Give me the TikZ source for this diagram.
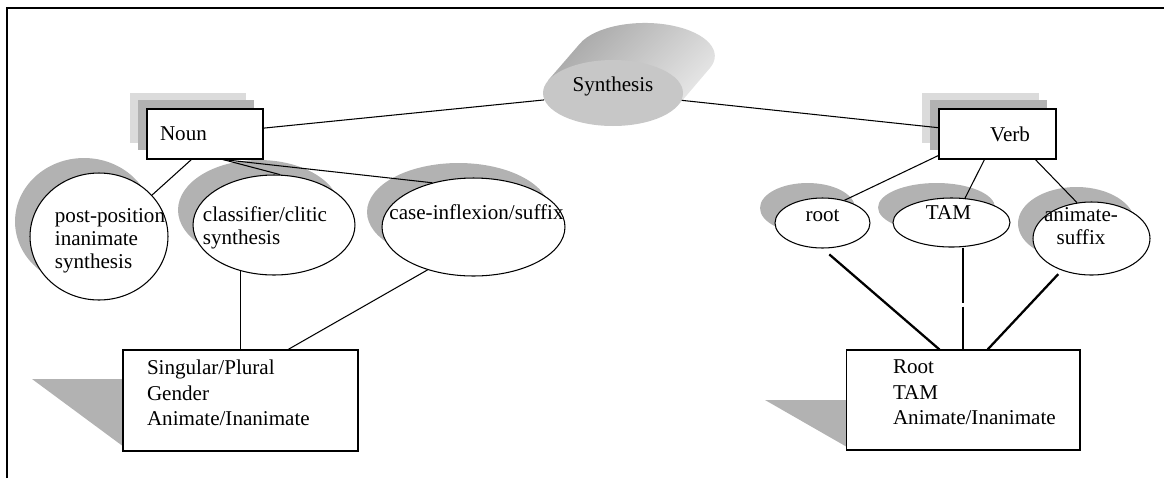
\documentclass[tikz,border=0pt]{standalone}
\usepackage{fontspec}
\setmainfont{Liberation Serif}
\usepackage{xcolor}
\usepackage{tikz}
\usetikzlibrary{shapes.geometric,shadows}

% text laid into an ellipse without widening it: shift x, shift y, column, lines
\newcommand{\inell}[4]{\raisebox{#2}[0pt][0pt]{\makebox[0pt]{\hspace*{#1}\begin{tabular}{@{}#3@{}}#4\end{tabular}\hspace*{-#1}}}}
% lines hung from the top of a feature box: height, width, lines
\newcommand{\featlines}[3]{\parbox[c][#1][t]{#2}{#3}}

\begin{document}
\begin{tikzpicture}[x=0.02cm, y=-0.02cm,
    every node/.style={font=\fontsize{12}{13}\selectfont},
    link/.style={line width=0.6pt},
    heavylink/.style={line width=1.3pt},
    halftone/.style={fill=gray!60},
    oval/.style={ellipse, draw, line width=0.6pt, fill=white, inner sep=0pt,
        general shadow={fill=gray!60, shadow xshift=-0.3cm, shadow yshift=0.3cm}},
    headbox/.style={rectangle, draw, line width=0.6pt, fill=white, minimum width=2.32cm, minimum height=1cm,
        general shadow={fill=gray!28, shadow xshift=-0.34cm, shadow yshift=0.32cm},
        general shadow={fill=gray!60, shadow xshift=-0.18cm, shadow yshift=0.18cm}},
    featbox/.style={rectangle, draw, line width=0.6pt, fill=white, inner xsep=0.2cm, inner ysep=0.2cm,
        font=\fontsize{12}{14.5}\selectfont}]

        % 0. PAGE FRAME
        \useasboundingbox (0,0) rectangle (1164,478);
        \draw[line width=1.4pt] (7,478) -- (7,8) -- (1164,8);

        % 1. SYNTHESIS (raised disc at the top)
        \shade[top color=gray!70, bottom color=gray!18, shading angle=45] (548,80.5) -- (580,43.5)
            arc[start angle=202.2, end angle=382.2, x radius=70, y radius=33] -- (678,105.5) -- cycle;
        \node[ellipse, fill=gray!44, inner sep=0pt, minimum width=2.8cm, minimum height=1.32cm] (synth) at (613,93) {\inell{0cm}{0.02cm}{c}{Synthesis}};

        % 2. NOUN AND VERB HEADS
        \node[headbox, inner xsep=0.26cm, text width=1.8cm, align=left] (noun) at (205,134) {Noun};
        \node[headbox, inner xsep=0.52cm, text width=1.3cm, align=right] (verb) at (997.5,134) {Verb};

        % 3. NOUN BRANCHES
        \node[oval, minimum width=2.76cm, minimum height=2.54cm] (pp) at (99,236.5) {\inell{0.22cm}{-0.19cm}{l}{post-position\\inanimate\\synthesis}};
        \node[oval, minimum width=3.24cm, minimum height=2cm] (cls) at (274,225) {\inell{-0.18cm}{-0.18cm}{l}{classifier/clitic\\synthesis}};
        \node[oval, minimum width=3.66cm, minimum height=1.96cm] (cas) at (473.5,227) {\inell{0.06cm}{0.14cm}{c}{case-inflexion/suffix}};

        % 4. VERB BRANCHES
        \node[oval, minimum width=1.9cm, minimum height=1cm] (root) at (822.5,223) {\inell{0cm}{0.02cm}{c}{root}};
        \node[oval, minimum width=2.34cm, minimum height=0.98cm] (tam) at (951.5,222.5) {\inell{-0.06cm}{0.04cm}{c}{TAM}};
        \node[oval, minimum width=2.34cm, minimum height=1.46cm] (anim) at (1091.5,238.5) {\inell{-0.21cm}{0.1cm}{c}{animate-\\suffix}};

        % 5. FEATURE BOXES (with slanted shadow)
        \fill[halftone] (32,379) -- (124,379) -- (124,447) -- cycle;
        \node[featbox] (nounfeat) at (240.5,400.5) {\featlines{1.62cm}{4.3cm}{\leftskip=0.28cm Singular/Plural\\Gender\\Animate/Inanimate}};
        \fill[halftone] (765,400) -- (847,400) -- (847,447) -- cycle;
        \node[featbox] (verbfeat) at (963,400) {\featlines{1.6cm}{4.28cm}{\leftskip=0.74cm Root\\TAM\\Animate/Inanimate}};

        % 6. CONNECTORS
        \draw[link] (synth) -- (noun);
        \draw[link] (synth) -- (verb);
        \draw[link] (noun.242) -- (pp.38);
        \draw[link] (noun.305) -- (cls.83);
        \draw[link] (noun.305) -- (cas.133);
        \draw[link] (cls.234) -- (cls.234 |- nounfeat.north);
        \draw[link] (cas.223) -- (nounfeat.47);
        \draw[link] (verb.200) -- (root.46);
        \draw[link] (verb.243) -- (tam.61);
        \draw[link] (verb.326) -- (anim.112);

        % thick links down to the verb features
        \draw[heavylink, shorten <=0.18cm] (root.south) -- (verbfeat.115);
        \draw[heavylink, dash pattern=on 1.1cm off 0.08cm] (verbfeat.north |- tam.south) -- (verbfeat.north);
        \draw[heavylink, shorten <=0.1cm] (anim.227) -- (verbfeat.64);

    \end{tikzpicture}
\end{document}
